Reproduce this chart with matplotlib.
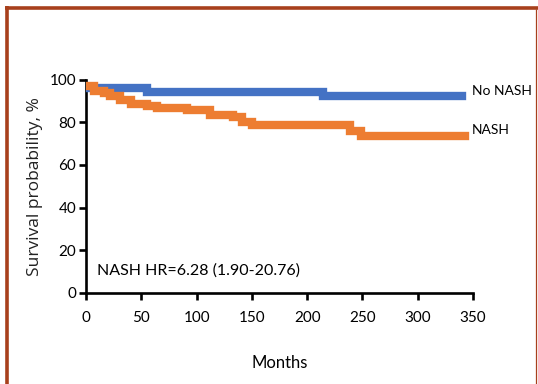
import matplotlib
matplotlib.use("Agg")
import matplotlib.pyplot as plt
from matplotlib.lines import Line2D

# Kaplan-Meier steps (months, survival %)
no_nash_t = [0, 55, 214, 340]
no_nash_s = [96.0, 94.1, 92.2, 92.2]
nash_t = [0, 7, 16, 22, 31, 41, 55, 64, 91, 112, 133, 141, 150, 239, 249, 343]
nash_s = [97.0, 95.0, 93.7, 92.6, 90.6, 88.7, 87.5, 86.8, 86.0, 83.5, 82.6,
          80.4, 78.9, 76.2, 73.4, 73.4]
x_ticks = [0, 50, 100, 150, 200, 250, 300, 350]
y_ticks = [0, 20, 40, 60, 80, 100]

BLUE = "#4472C4"
ORANGE = "#ED7D31"
BORDER = "#A8401C"
NARROW = ["Lato", "DejaVu Sans"]

fig = plt.figure(figsize=(5.38, 3.84), dpi=100)
fig.patch.set_facecolor("white")
ax = fig.add_axes([0.160, 0.238, 0.719, 0.554])

ax.plot(no_nash_t, no_nash_s, drawstyle="steps-post", color=BLUE, lw=6,
        solid_joinstyle="miter", zorder=3)
ax.plot(nash_t, nash_s, drawstyle="steps-post", color=ORANGE, lw=6,
        solid_joinstyle="miter", zorder=4)

ax.set_xlim(0, 350)
ax.set_ylim(0, 100)
ax.set_xticks(x_ticks)
ax.set_yticks(y_ticks)
for s in ("top", "right"):
    ax.spines[s].set_visible(False)
for s in ("left", "bottom"):
    ax.spines[s].set_linewidth(1.9)
ax.tick_params(width=1.9, length=5, labelsize=11, pad=2, colors="black")
for lab in ax.get_xticklabels() + ax.get_yticklabels():
    lab.set_family(NARROW)
ax.tick_params(axis="x", pad=8)

ax.text(343 + 6, 95.0, "No NASH", fontsize=10, family=NARROW, va="center",
        clip_on=False)
ax.text(343 + 6, 76.5, "NASH", fontsize=10, family=NARROW, va="center",
        clip_on=False)
ax.text(10, 10.5, "NASH HR=6.28 (1.90-20.76)", fontsize=11.5, family=NARROW,
        va="center")

ax.set_ylabel("Survival probability, %", fontsize=12.5, family="Open Sans",
              labelpad=5, color="#222222")
ax.set_xlabel("Months", fontsize=12, family=NARROW, labelpad=22)

# brown frame around the panel
W, H = 538, 384
def px(x0, y0, x1, y1, lw, c=BORDER):
    fig.add_artist(Line2D([x0 / W, x1 / W], [1 - y0 / H, 1 - y1 / H],
                          color=c, lw=lw, transform=fig.transFigure,
                          solid_capstyle="butt"))
px(5, 7.5, 538, 7.5, 2.6)
px(7, 6, 7, 384, 2.6)
px(536, 9, 536, 384, 0.9)

fig.savefig("out.png", dpi=100, facecolor="white")
